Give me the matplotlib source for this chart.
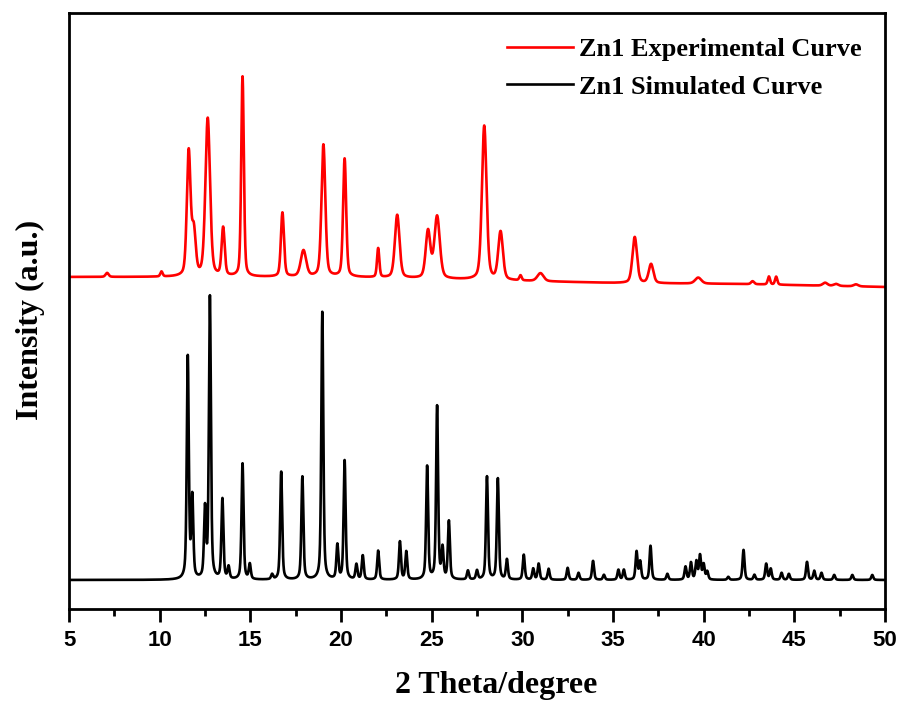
import numpy as np
import matplotlib.pyplot as plt
from matplotlib.ticker import MultipleLocator

# peak positions (2theta), heights and widths
exp_pos = [7.1, 10.1, 11.6, 11.88, 12.65, 13.5, 14.57, 16.77, 17.93, 19.03, 20.2,
           22.05, 23.1, 24.8, 25.3, 27.9, 28.8, 29.9, 31.0, 36.2, 37.1, 39.7,
           42.7, 43.6, 44.0, 46.7, 47.3, 48.4]
exp_height = [4, 5, 124, 44, 158, 48, 200, 64, 26, 132, 118,
              29, 63, 47, 62, 154, 48, 5, 8, 46, 19, 6,
              3, 8, 8, 3, 2, 2]
exp_width = [0.2, 0.15, 0.24, 0.25, 0.3, 0.2, 0.17, 0.2, 0.35, 0.25, 0.2,
             0.15, 0.3, 0.3, 0.35, 0.3, 0.3, 0.15, 0.4, 0.3, 0.3, 0.4,
             0.2, 0.15, 0.15, 0.3, 0.3, 0.3]
exp_base_x = [5, 20, 30, 35, 42, 50]
exp_base_y = [303, 303, 299, 297, 296, 293]

sim_pos = [11.55, 11.8, 12.5, 12.77, 13.46, 13.8, 14.57, 14.97, 16.2, 16.7, 17.87,
           18.97, 19.8, 20.2, 20.85, 21.2, 22.05, 23.25, 23.6, 24.75, 25.3, 25.6,
           25.95, 27.0, 27.5, 28.05, 28.65, 29.15, 30.08, 30.6, 30.9, 31.45, 32.5,
           33.1, 33.9, 34.5, 35.3, 35.6, 36.3, 36.5, 37.07, 38.0, 39.0, 39.3,
           39.6, 39.8, 40.0, 40.2, 41.36, 42.2, 42.8, 43.45, 43.7, 44.3, 44.7,
           45.7, 46.1, 46.5, 47.2, 48.2, 49.3]
sim_height = [222, 80, 68, 282, 80, 12, 116, 15, 5, 108, 103,
              268, 34, 119, 15, 24, 29, 38, 28, 113, 173, 30,
              58, 9, 9, 103, 101, 20, 25, 11, 16, 11, 12,
              7, 19, 5, 10, 10, 28, 18, 34, 6, 13, 17,
              18, 24, 15, 8, 3, 30, 5, 16, 11, 7, 6,
              18, 9, 7, 5, 5, 5]
sim_fwhm = 0.13

x = np.linspace(5, 50, 6000)


def pv(x, pos, h, w, eta):
    g = np.exp(-4 * np.log(2) * ((x - pos) / w) ** 2)
    l = 1 / (1 + 4 * ((x - pos) / w) ** 2)
    return h * (eta * l + (1 - eta) * g)


exp_y = np.interp(x, exp_base_x, exp_base_y).astype(float)
for p, h, w in zip(exp_pos, exp_height, exp_width):
    exp_y += pv(x, p, h, w, 0.35)

sim_y = np.zeros_like(x)
for p, h in zip(sim_pos, sim_height):
    sim_y += pv(x, p, h, sim_fwhm, 0.5)

plt.rcParams['font.family'] = ['Liberation Serif', 'DejaVu Serif']
plt.rcParams['font.weight'] = 'bold'

fig = plt.figure(figsize=(9.01, 7.05), dpi=100)
ax = fig.add_axes([0.0766, 0.1362, 0.9056, 0.8454])

ax.plot(x, exp_y, color='#ff0000', lw=1.9, label='Zn1 Experimental Curve')
ax.plot(x, sim_y, color='black', lw=1.9, label='Zn1 Simulated Curve')

ax.set_xlim(5, 50)
ax.set_ylim(-29, 567)
ax.set_yticks([])
ax.xaxis.set_major_locator(MultipleLocator(5))
ax.xaxis.set_minor_locator(MultipleLocator(2.5))
ax.tick_params(axis='x', which='major', direction='out', length=9, width=2, pad=6)
ax.tick_params(axis='x', which='minor', direction='out', length=5, width=2)
for s in ax.spines.values():
    s.set_linewidth(2)

for lab in ax.get_xticklabels():
    lab.set_family(['Liberation Sans', 'DejaVu Sans'])
    lab.set_fontweight('bold')
    lab.set_fontsize(16)

ax.set_xlabel('2 Theta/degree', fontsize=23, fontweight='bold')
ax.xaxis.set_label_coords(0.524, -0.104)
ax.set_ylabel('Intensity (a.u.)', fontsize=23, fontweight='bold')
ax.yaxis.set_label_coords(-0.03, 0.485)

ax.legend(loc='upper right', frameon=False, handlelength=2.5,
          handletextpad=0.2, labelspacing=0.52, borderaxespad=0.5,
          bbox_to_anchor=(1.0, 0.998),
          prop={'weight': 'bold', 'size': 19})

fig.savefig('out.png', dpi=100)
